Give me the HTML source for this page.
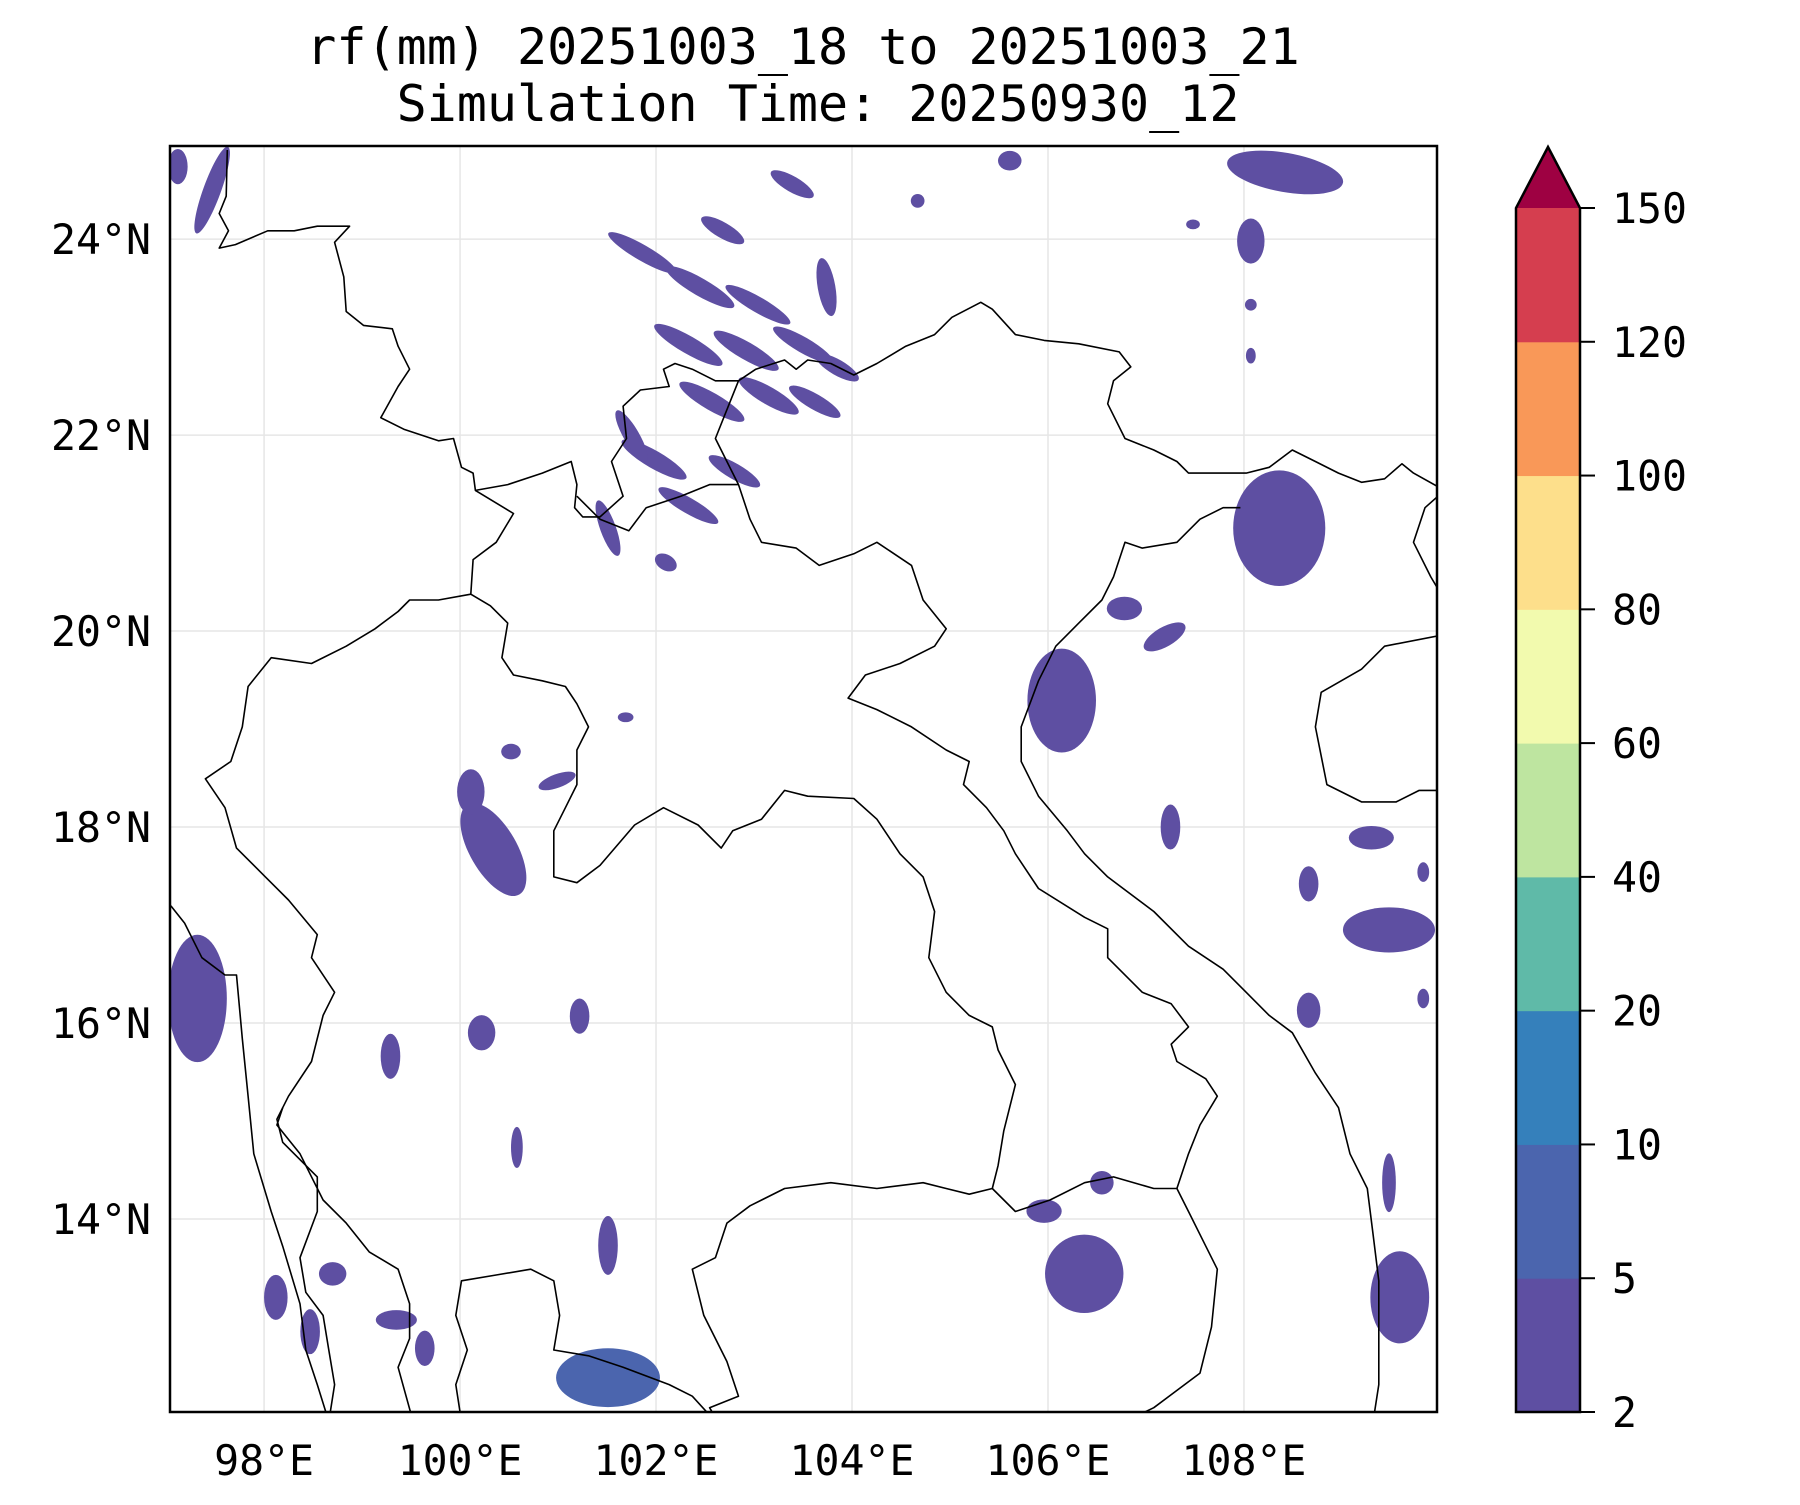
<!DOCTYPE html>
<html><head><meta charset="utf-8"><style>
body{margin:0;background:#fff}
svg text{font-family:"DejaVu Sans Mono","Liberation Mono",monospace;fill:#000}
</style></head><body>
<svg id="chart" width="1800" height="1500" viewBox="0 0 1800 1500" xmlns="http://www.w3.org/2000/svg">
<text x="803" y="64" font-size="50" text-anchor="middle">rf(mm) 20251003_18 to 20251003_21</text>
<text x="818" y="121" font-size="50" text-anchor="middle">Simulation Time: 20250930_12</text>
<defs><clipPath id="clip"><rect x="170" y="146" width="1267" height="1266"/></clipPath></defs>
<g id="grid"></g>
<g id="rain" clip-path="url(#clip)"></g>
<g id="borders" clip-path="url(#clip)" fill="none" stroke="#000" stroke-width="1.6" stroke-linejoin="round"></g>
<rect x="170" y="146" width="1267" height="1266" fill="none" stroke="#000" stroke-width="2.5"/>
<g id="xlabels"></g>
<g id="ylabels"></g>
<g id="cbar"></g>
</svg>
<script>
const lonTicks=[98,100,102,104,106,108];
const latTicks=[14,16,18,20,22,24];
const cbLevels=[2,5,10,20,40,60,80,100,120,150];
const cbColors=["#5e4fa2","#4b65ae","#3580bb","#5fbaa8","#bee5a0","#f2faae","#fddf8b","#f99858","#d53e4f"];
const cbExtendColor="#9e0142";
// rainfall cells (lon, lat, radius lon deg, radius lat deg, rotation deg, level index)
const rainLon=[97.47,97.12,97.32,100.34,100.11,101.86,102.45,103.04,102.33,102.92,103.50,102.57,103.15,103.62,101.98,102.33,102.80,101.51,102.68,103.39,103.74,101.75,102.10,103.85,108.36,108.42,108.07,106.14,106.78,107.19,106.37,105.96,101.51,109.48,109.59,109.30,108.66,107.25,100.22,101.22,99.29,100.58,99.64,99.35,98.70,98.12,98.47,101.51,106.55,109.48,108.66,105.61,104.67,107.48,108.07,108.07,101.69,100.99,100.52,109.83,109.83];
const rainLat=[24.50,24.74,16.25,17.77,18.36,23.86,23.51,23.33,22.92,22.86,22.92,22.34,22.40,22.34,21.75,21.28,21.63,21.05,24.09,24.56,23.51,21.99,20.70,22.69,21.05,24.68,23.98,19.29,20.23,19.94,13.44,14.08,12.38,16.95,13.20,17.89,17.42,18.00,15.90,16.07,15.66,14.73,12.68,12.97,13.44,13.20,12.85,13.73,14.37,14.37,16.13,24.80,24.39,24.15,22.81,23.33,19.12,18.47,18.77,16.25,17.54];
const rainRx=[0.09,0.10,0.30,0.24,0.14,0.40,0.40,0.38,0.40,0.38,0.35,0.38,0.35,0.30,0.38,0.35,0.30,0.30,0.25,0.25,0.30,0.30,0.12,0.25,0.47,0.60,0.14,0.35,0.18,0.24,0.40,0.18,0.53,0.47,0.30,0.23,0.10,0.10,0.14,0.10,0.10,0.06,0.10,0.21,0.14,0.12,0.10,0.10,0.12,0.07,0.12,0.12,0.07,0.07,0.05,0.06,0.08,0.20,0.10,0.06,0.06];
const rainRy=[0.47,0.18,0.65,0.53,0.23,0.08,0.09,0.08,0.09,0.09,0.08,0.09,0.09,0.08,0.09,0.08,0.08,0.08,0.08,0.08,0.09,0.08,0.08,0.08,0.59,0.20,0.23,0.53,0.12,0.10,0.40,0.12,0.30,0.23,0.47,0.12,0.18,0.23,0.18,0.18,0.23,0.21,0.18,0.10,0.12,0.23,0.23,0.30,0.12,0.30,0.18,0.10,0.07,0.05,0.08,0.06,0.05,0.07,0.08,0.10,0.10];
const rainRot=[20,0,0,-30,0,30,30,30,30,30,30,30,30,30,30,30,30,70,30,30,80,60,30,30,0,10,0,0,0,-30,0,0,0,0,0,0,0,0,0,0,0,0,0,0,0,0,0,0,0,0,0,0,0,0,0,0,0,-20,0,0,0];
const rainLvl=[0,0,0,0,0,0,0,0,0,0,0,0,0,0,0,0,0,0,0,0,0,0,0,0,0,0,0,0,0,0,0,0,1,0,0,0,0,0,0,0,0,0,0,0,0,0,0,0,0,0,0,0,0,0,0,0,0,0,0,0,0];

const NS="http://www.w3.org/2000/svg";
const X0=170,X1=1437,Y0=146,Y1=1412;
const lonMin=97.04,lonMax=109.97,latMin=12.03,latMax=24.95;
const xs=l=>X0+(l-lonMin)/(lonMax-lonMin)*(X1-X0);
const ys=l=>Y1-(l-latMin)/(latMax-latMin)*(Y1-Y0);
const pxLon=(X1-X0)/(lonMax-lonMin), pxLat=(Y1-Y0)/(latMax-latMin);
function mk(t,a,p){const e=document.createElementNS(NS,t);for(const k in a)e.setAttribute(k,a[k]);p.appendChild(e);return e;}

const grid=document.getElementById('grid');
lonTicks.forEach(v=>{const l=mk('line',{x1:xs(v),x2:xs(v),y1:Y0,y2:Y1,stroke:'#e6e6e6','stroke-width':1.5},grid);

});
latTicks.forEach(v=>{const l=mk('line',{x1:X0,x2:X1,y1:ys(v),y2:ys(v),stroke:'#e6e6e6','stroke-width':1.5},grid);

});

const xl=document.getElementById('xlabels');
lonTicks.forEach(v=>{const t=mk('text',{x:xs(v),y:1475,'font-size':41.5,'text-anchor':'middle'},xl);t.textContent=v+'°E';

});
const yl=document.getElementById('ylabels');
latTicks.forEach(v=>{const t=mk('text',{x:151,y:ys(v)+15,'font-size':41.5,'text-anchor':'end'},yl);t.textContent=v+'°N';

});

const rain=document.getElementById('rain');
for(let i=0;i<rainLon.length;i++){
 const cx=xs(rainLon[i]),cy=ys(rainLat[i]);
 const e=mk('ellipse',{cx:cx,cy:cy,rx:rainRx[i]*pxLon,ry:rainRy[i]*pxLat,fill:cbColors[rainLvl[i]],transform:`rotate(${rainRot[i]} ${cx} ${cy})`},rain);
 
 
}

const lines=[
"197,130 196,170 190,185 198,200 190,215 204,212 232,200 255,200 275,196 303,196 290,210 298,240 300,270 315,282 340,285 345,300 355,320 345,335 330,362 350,372 380,382 393,380 400,405 410,410 412,425 440,420 470,410 495,400 500,420 498,440 505,448 520,448 540,430 530,400 543,380 540,352 555,338 580,335 575,320 585,315 600,320 620,330 640,330 655,320 680,312 690,320 700,312 720,315 740,325 760,315 785,300 810,290 825,275 850,262 860,268 880,290 905,295 935,298 970,305 980,318 965,330 960,350 975,380 1000,390 1020,400 1030,410 1060,410 1080,410 1100,405 1120,390 1140,400 1160,410 1180,418 1200,415 1215,402 1225,410 1252,425",
"1252,425 1235,440 1225,470 1240,500 1252,520",
"640,330 628,360 620,380 630,400 640,420 650,450 660,470 690,475 710,490 740,480 760,470 790,490 800,520 820,545 810,560 780,575 750,585 735,605 760,615 790,630 820,650 840,660 835,680 855,700 870,720 880,740 900,770 940,795 960,805 960,830 990,860 1015,870 1030,890 1015,905 1020,920 1045,935 1055,950 1040,975 1030,1000 1020,1030",
"500,430 520,450 545,460 560,440 590,430 615,420 640,420",
"412,425 445,445 430,470 410,485 408,515 380,520 355,520 345,530 325,545 300,560 270,575 235,570 215,595 210,630 200,660 178,675 195,700 205,735 230,760 250,780 275,810 270,830 290,860 280,880 270,920 250,950 240,970 245,990 255,1000 275,1020 275,1050 260,1090 265,1120 280,1140 285,1170 290,1200 285,1232",
"408,515 425,525 440,540 435,570 445,585 470,590 490,595 500,610 510,630 500,650 500,680 490,700 480,720 480,760 500,765 520,750 550,715 575,700 605,715 625,735 635,720 660,710 680,685 700,690 740,692 760,710 780,740 800,760 810,790 805,830 820,860 840,880 860,890 865,910 880,940 870,980 865,1010 860,1030 840,1035 820,1030 800,1025 760,1030 720,1025 680,1030 650,1045 630,1060 620,1090 600,1100 610,1140 630,1180 640,1210 615,1220 622,1232",
"860,1030 880,1050 910,1040 940,1025 965,1020 1000,1030 1020,1030 1030,1050 1045,1080 1055,1100 1050,1150 1040,1190 1000,1220 975,1232",
"148,785 160,800 175,830 195,845 205,845 210,900 215,950 220,1000 235,1050 245,1080 260,1130 265,1170 275,1200 285,1232",
"245,960 240,975 260,1000 280,1040 300,1060 320,1085 345,1100 355,1130 355,1160 345,1185 358,1232",
"400,1232 395,1200 405,1170 395,1140 400,1110 430,1105 460,1100 480,1110 485,1140 480,1170 510,1175 540,1185 580,1200 600,1210 620,1232",
"1075,440 1060,440 1040,450 1020,470 990,475 975,470 965,500 955,520 935,540 915,560 900,590 885,630 885,660 900,690 925,720 940,740 960,760 1000,790 1030,820 1060,840 1080,860 1100,880 1120,895 1140,930 1160,960 1170,1000 1185,1030 1190,1070 1195,1110 1195,1150 1195,1200 1190,1232",
"1252,550 1200,560 1180,580 1145,600 1140,630 1150,680 1180,695 1210,695 1230,685 1252,685"
];
const bg=document.getElementById('borders');
const sc=1800/1560;
lines.forEach(s=>{const pts=s.split(' ').map(p=>p.split(',').map(v=>(+v*sc).toFixed(1)).join(',')).join(' ');
 const p=mk('polyline',{points:pts},bg);
 
 });

const cb=document.getElementById('cbar');
const CX0=1516,CX1=1580,CB0=1412,CT=208;
const step=(CB0-CT)/(cbLevels.length-1);
const cy=i=>CB0-i*step;
for(let i=0;i<cbColors.length;i++){
 const r=mk('rect',{x:CX0,y:cy(i+1),width:CX1-CX0,height:step+0.5,fill:cbColors[i]},cb);
 
 
}
const tri=mk('polygon',{points:`${CX0},${CT} ${CX1},${CT} ${(CX0+CX1)/2},147`,fill:cbExtendColor},cb);


const ol=mk('polygon',{points:`${CX0},${CB0} ${CX0},${CT} ${(CX0+CX1)/2},147 ${CX1},${CT} ${CX1},${CB0}`,fill:'none',stroke:'#000','stroke-width':2.5},cb);


cbLevels.forEach((v,i)=>{
 const tk=mk('line',{x1:CX1,x2:CX1+15,y1:cy(i),y2:cy(i),stroke:'#000','stroke-width':2},cb);
 
 
 const t=mk('text',{x:1612,y:cy(i)+15,'font-size':41.5},cb);t.textContent=v;
 
 
});
</script>
</body></html>
